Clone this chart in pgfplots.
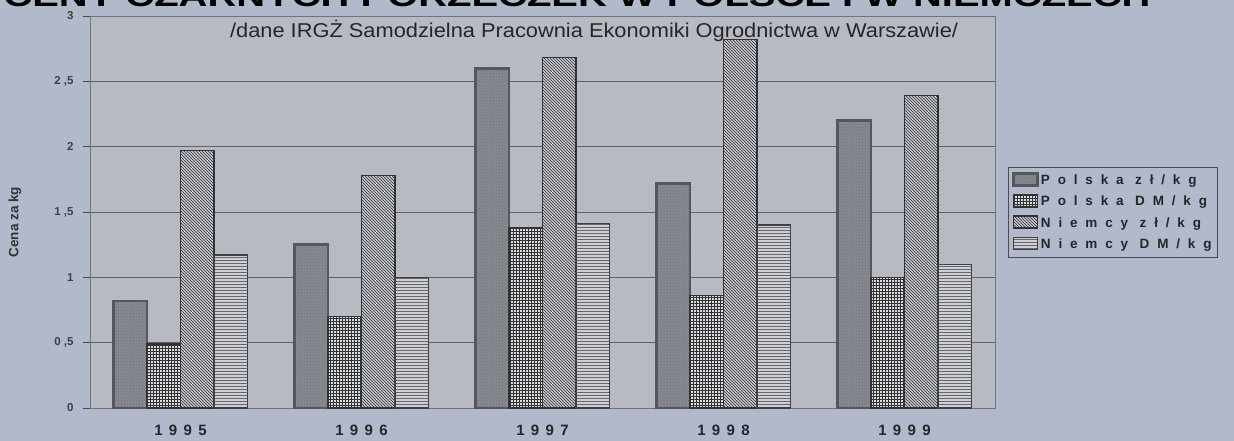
\documentclass[border=0pt]{standalone}
\usepackage{pgfplots}
\pgfplotsset{compat=1.18}
\usepackage{graphicx}
\usepackage{fontspec}
\setmainfont{Liberation Sans}
\usetikzlibrary{patterns}
\definecolor{pagebg}{HTML}{B2B9CB}
\definecolor{plotbg}{HTML}{B7BAC2}
\definecolor{pzl}{HTML}{868991}
\definecolor{pzlb}{HTML}{55575D}
\definecolor{pdm}{HTML}{DADCE2}
\definecolor{nzl}{HTML}{C4C7CE}
\definecolor{ndm}{HTML}{CDD0D7}
\pgfplotstableread{
x pzl pdm nzl ndm
0 0.82 0.49 1.97 1.17
1 1.25 0.70 1.78 1.00
2 2.60 1.38 2.68 1.41
3 1.72 0.86 2.82 1.40
4 2.20 1.00 2.39 1.10
}\data
\begin{document}
\begin{tikzpicture}[x=1pt,y=1pt]
\useasboundingbox (0,0) rectangle (1234,441);
\fill[pagebg] (0,0) rectangle (1234,441);
\node[anchor=base, inner sep=0pt] at (577,434.5) {\resizebox{1147pt}{\height}{\bfseries\fontsize{30}{30}\selectfont CENY CZARNYCH PORZECZEK W POLSCE I W NIEMCZECH}};
\begin{axis}[
  at={(90pt,33pt)}, anchor=south west, scale only axis,
  width=905pt, height=392pt,
  xmin=-0.5, xmax=4.5, ymin=0, ymax=3,
  ybar=0pt, bar width=0.185,
  axis background/.style={fill=plotbg},
  axis line style={draw=black!55, line width=0.6pt},
  ytick={0,0.5,1,1.5,2,2.5,3},
  yticklabels={0,{0 ,5},1,{1 ,5},2,{2 ,5},3},
  yticklabel style={font=\bfseries\fontsize{11.5}{11.5}\selectfont, text=black!75, xshift=-6pt},
  ymajorgrids, grid style={draw=black!62, line width=0.7pt},
  ytick pos=left, tick align=outside, major tick length=7pt,
  y tick style={draw=black!70, line width=0.7pt},
  xtick={0,1,2,3,4},
  xticklabels={1995,1996,1997,1998,1999},
  x tick style={draw=none},
  xticklabel style={font=\bfseries\fontsize{15}{15}\selectfont\addfontfeature{LetterSpace=42}, text=black!85, yshift=-6pt},
  ylabel={Cena za kg},
  ylabel style={at={(axis description cs:-0.083,0.474)}, anchor=center, font=\bfseries\fontsize{13.5}{13.5}\selectfont, text=black!80},
  legend style={at={(1.0144,0.615)}, anchor=north west, draw=black!70, line width=0.7pt, fill=pagebg,
    font=\bfseries\fontsize{13.5}{13.5}\selectfont\addfontfeature{LetterSpace=58}, text=black!85,
    cells={anchor=west}, row sep=6pt, inner xsep=4pt, inner ysep=5pt},
  legend image code/.code={\draw[#1] (0pt,-5pt) rectangle (24pt,7pt);},
  clip=false,
]
\addplot[preaction={fill=pzl}, pattern=crosshatch dots, pattern color=black!55, draw=pzlb, line width=2.6pt]
  table[x=x,y=pzl]{\data};
\addlegendentry{Polska zł/kg}
\addplot[preaction={fill=pdm}, pattern=grid, pattern color=black!80, draw=black!80, line width=1.3pt]
  table[x=x,y=pdm]{\data};
\addlegendentry{Polska DM/kg}
\addplot[preaction={fill=nzl}, pattern=north west lines, pattern color=black!80, draw=black!80, line width=1.3pt]
  table[x=x,y=nzl]{\data};
\addlegendentry{Niemcy zł/kg}
\addplot[preaction={fill=ndm}, pattern=horizontal lines, pattern color=black!60, draw=black!75, line width=1.3pt]
  table[x=x,y=ndm]{\data};
\addlegendentry{Niemcy DM/kg}
\node[anchor=base, inner sep=0pt, text=black!85] at (axis description cs:0.557,0.945)
  {\resizebox{728pt}{\height}{\fontsize{20}{20}\selectfont /dane IRGŻ Samodzielna Pracownia Ekonomiki Ogrodnictwa w Warszawie/}};
\end{axis}
\end{tikzpicture}
\end{document}
